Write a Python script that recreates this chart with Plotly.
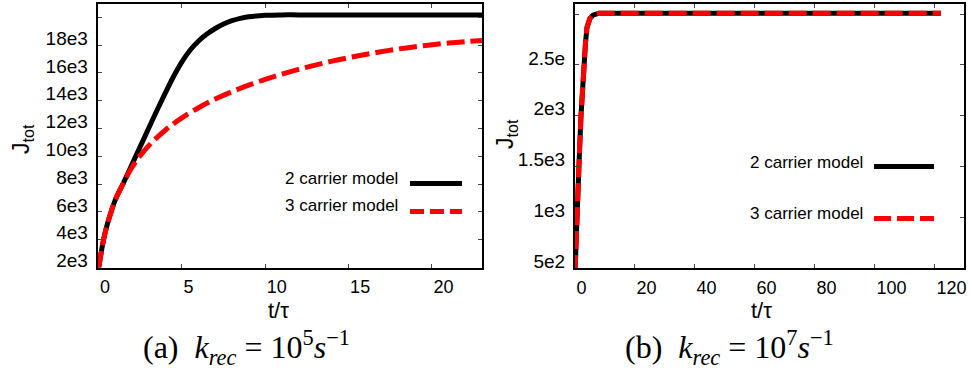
import plotly.graph_objects as go

# ---- data: panel (a) k_rec = 1e5 ----
t_a2 = [0, 0.15, 0.3, 0.5, 0.75, 1.0, 1.5, 2.0, 2.5, 3.0, 3.5, 4.0, 4.5, 5.0, 5.5, 6.0,
        6.5, 7.0, 7.5, 8.0, 8.5, 9.0, 10, 11, 12, 15, 20, 23]
j_a2 = [1900, 3000, 4000, 5000, 6000, 6850, 8100, 9400, 10700, 12000, 13300, 14550, 15750,
        16800, 17650, 18300, 18800, 19200, 19520, 19760, 19930, 20040, 20150, 20180, 20180,
        20180, 20180, 20180]
t_a3 = [0, 0.15, 0.3, 0.5, 0.75, 1.0, 1.5, 2.0, 2.5, 3.0, 3.5, 4.0, 4.5, 5.0, 6.0, 7.0,
        8.0, 9.0, 10, 11, 12, 13, 14, 15, 16, 17, 18, 19, 20, 21, 22, 23]
j_a3 = [1900, 3000, 4000, 5000, 6000, 6850, 8100, 9200, 10050, 10750, 11350, 11880, 12350,
        12770, 13500, 14120, 14650, 15120, 15540, 15920, 16260, 16570, 16850, 17100, 17330,
        17540, 17730, 17890, 18030, 18150, 18250, 18340]

# ---- data: panel (b) k_rec = 1e7 ----
t_b = [0, 0.5, 1.0, 1.5, 2.0, 2.5, 3.0, 3.5, 4.0, 4.5, 5.0, 6.0, 7.0, 8.0, 10, 20, 40, 60,
       80, 100, 122]
j_b2 = [450, 950, 1350, 1650, 2000, 2280, 2520, 2720, 2870, 2930, 2960, 2990, 3005, 3010,
        3010, 3010, 3010, 3010, 3010, 3010, 3010]
j_b3 = [450, 950, 1350, 1650, 2000, 2280, 2520, 2720, 2870, 2930, 2960, 2990, 3005, 3010,
        3010, 3010, 3010, 3010, 3010, 3010, 3010]

# ---- ticks ----
xt_a = [0, 5, 10, 15, 20]
yt_a = [2000, 4000, 6000, 8000, 10000, 12000, 14000, 16000, 18000, 20000]
yl_a = ["2e3", "4e3", "6e3", "8e3", "10e3", "12e3", "14e3", "16e3", "18e3", ""]
xt_b = [0, 20, 40, 60, 80, 100, 120]
yt_b = [500, 1000, 1500, 2000, 2500, 3000]
yl_b = ["5e2", "1e3", "1.5e3", "2e3", "2.5e", ""]

names = ["2 carrier model", "3 carrier model"]

W, H = 970, 372
FONT = "Arial, Liberation Sans, sans-serif"
SERIF = "Times New Roman, Liberation Serif, serif"
BLACK = "#000000"
RED = "#ff0000"
DASH = "18px,6px"

fig = go.Figure()
fig.add_trace(go.Scatter(x=t_a2, y=j_a2, mode="lines", line=dict(color=BLACK, width=5, shape="spline"),
                         xaxis="x", yaxis="y", name=names[0], showlegend=False))
fig.add_trace(go.Scatter(x=t_a3, y=j_a3, mode="lines",
                         line=dict(color=RED, width=5, dash=DASH, shape="spline"),
                         xaxis="x", yaxis="y", name=names[1], showlegend=False))
fig.add_trace(go.Scatter(x=t_b, y=j_b2, mode="lines", line=dict(color=BLACK, width=5),
                         xaxis="x2", yaxis="y2", name=names[0], showlegend=False))
fig.add_trace(go.Scatter(x=t_b, y=j_b3, mode="lines", line=dict(color=RED, width=5, dash=DASH),
                         xaxis="x2", yaxis="y2", name=names[1], showlegend=False))

def px2x(p):
    return p / W

def px2y(p):
    return 1 - p / H

ax_common = dict(showline=True, linewidth=2, linecolor=BLACK, mirror="ticks", ticks="inside",
                 ticklen=4, tickwidth=1, tickcolor="#444", showgrid=False, zeroline=False,
                 automargin=False)
xfont = dict(family=FONT, size=18, color=BLACK)
yfont = dict(family=FONT, size=19, color=BLACK)

fig.update_layout(
    width=W, height=H, margin=dict(l=0, r=0, t=0, b=0, autoexpand=False),
    paper_bgcolor="white", plot_bgcolor="white",
    xaxis=dict(domain=[px2x(97.7), px2x(482)], range=[-0.05, 23.0], tickvals=xt_a,
               ticklabelposition="outside right", ticklabelstandoff=2, tickfont=xfont,
               anchor="y", **ax_common),
    yaxis=dict(domain=[px2y(267.5), px2y(3.5)], range=[2000, 21000], tickvals=yt_a, ticktext=yl_a,
               ticklabelshift=-7, ticklabelstandoff=4, tickfont=yfont, anchor="x", **ax_common),
    xaxis2=dict(domain=[px2x(575), px2x(964)], range=[0, 129.7], tickvals=xt_b,
                ticklabelposition="outside right", ticklabelstandoff=2, tickfont=xfont,
                anchor="y2", **ax_common),
    yaxis2=dict(domain=[px2y(268), px2y(4)], range=[500, 3100], tickvals=yt_b, ticktext=yl_b,
                ticklabelshift=-7, ticklabelstandoff=4, tickfont=yfont, anchor="x2", **ax_common),
)

ann = []
def add_text(x, y, text, size, xanchor="center", angle=0, family=FONT):
    ann.append(dict(x=px2x(x), y=px2y(y), xref="paper", yref="paper", text=text, showarrow=False,
                    xanchor=xanchor, yanchor="middle", textangle=angle,
                    font=dict(family=family, size=size, color=BLACK)))

# axis titles
add_text(22, 139, "J<sub>tot</sub>", 23, angle=-90)
add_text(506, 134, "J<sub>tot</sub>", 23, angle=-90)
add_text(278, 310, "t/τ", 22)
add_text(761, 310, "t/τ", 22)
# legends
add_text(400, 178, names[0], 17, xanchor="right")
add_text(400, 206, names[1], 17, xanchor="right")
add_text(865, 162, names[0], 17, xanchor="right")
add_text(865, 213, names[1], 17, xanchor="right")
# captions
add_text(246, 347, "(a)&nbsp; <i>k</i><sub><i>rec</i></sub> = 10<sup>5</sup><i>s</i><sup>−1</sup>", 32,
         family=SERIF)
add_text(729, 347, "(b)&nbsp; <i>k</i><sub><i>rec</i></sub> = 10<sup>7</sup><i>s</i><sup>−1</sup>", 32,
         family=SERIF)
fig.update_layout(annotations=ann)

shapes = []
def leg_line(x0, x1, y, color, dash):
    shapes.append(dict(type="line", xref="paper", yref="paper", x0=px2x(x0), x1=px2x(x1),
                       y0=px2y(y), y1=px2y(y), line=dict(color=color, width=5, dash=dash)))

leg_line(410, 462, 183.5, BLACK, "solid")
leg_line(410, 462, 211.5, RED, "14px,6px")
leg_line(874, 934, 166.5, BLACK, "solid")
leg_line(874, 934, 218.5, RED, "17px,6px")
fig.update_layout(shapes=shapes)

fig.write_html("out.html")
